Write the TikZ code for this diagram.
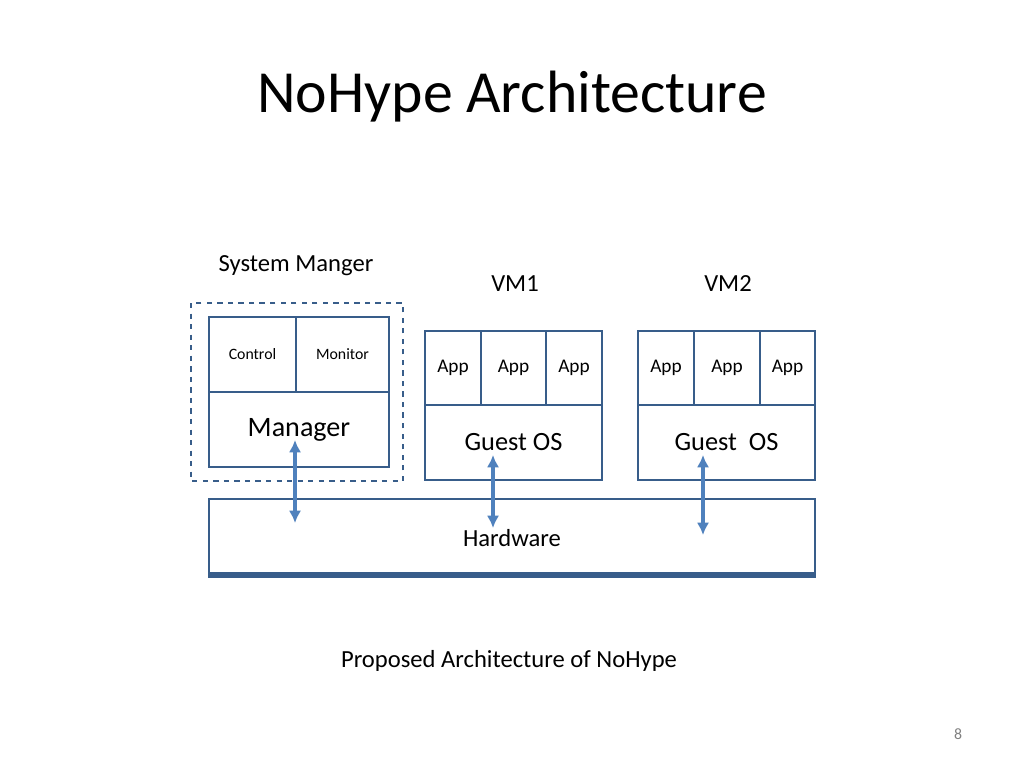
\documentclass[tikz,border=0pt]{standalone}
\usepackage{fontspec}
\setmainfont{Carlito}
\usetikzlibrary{arrows.meta}
\definecolor{boxblue}{RGB}{56,93,138}
\definecolor{arrowblue}{RGB}{79,129,189}
\begin{document}
\begin{tikzpicture}[x=0.02cm, y=-0.02cm]
	\tikzset{box/.style = {draw=boxblue, line width=1.4pt, fill=white, inner sep=0pt},
		link/.style = {arrowblue, line width=2pt, {Latex[length=7pt,width=7pt]}-{Latex[length=7pt,width=7pt]}}}
	\useasboundingbox (0,0) rectangle (1024,768);
	\node (title) at (512,97) {\fontsize{34}{40}\selectfont NoHype Architecture};
	\node (caption) at (509,661) {\fontsize{14}{17}\selectfont Proposed Architecture of NoHype};
	\node[text=gray] (page) at (958,734) {\fontsize{9}{11}\selectfont 8};
	\node (sm) at (296,266) {\fontsize{14}{17}\selectfont System Manger};
	\node (vm1) at (515,284) {\fontsize{14}{17}\selectfont VM1};
	\node (vm2) at (728,284) {\fontsize{14}{17}\selectfont VM2};
	\draw[boxblue, line width=1.4pt, dashed] (191,303) rectangle (403,481);
	% system manager
	\draw[box] (209,317) rectangle node (ctrl) {\fontsize{9}{11}\selectfont Control} (296,392);
	\draw[box] (296,317) rectangle node (mon) {\fontsize{9}{11}\selectfont Monitor} (389,392);
	\draw[box] (209,392) rectangle node (mgr) {\fontsize{16}{19}\selectfont Manager} (389,467);
	% VM1
	\draw[box] (425,331) rectangle node (a1) {\fontsize{11}{13}\selectfont App} (481,405);
	\draw[box] (481,331) rectangle node (a2) {\fontsize{11}{13}\selectfont App} (546,405);
	\draw[box] (546,331) rectangle node (a3) {\fontsize{11}{13}\selectfont App} (602,405);
	\draw[box] (425,405) rectangle node (os1) {\fontsize{15}{18}\selectfont Guest OS} (602,480);
	% VM2
	\draw[box] (638,331) rectangle node (b1) {\fontsize{11}{13}\selectfont App} (694,405);
	\draw[box] (694,331) rectangle node (b2) {\fontsize{11}{13}\selectfont App} (760,405);
	\draw[box] (760,331) rectangle node (b3) {\fontsize{11}{13}\selectfont App} (815,405);
	\draw[box] (638,405) rectangle node (os2) {\fontsize{15}{18}\selectfont Guest\ \ OS} (815,480);
	% hardware
	\draw[box] (209,499) rectangle node (hw) {\fontsize{14}{17}\selectfont Hardware} (815,577);
	\draw[boxblue, line width=3pt] (209,575) -- (815,575);
	\coordinate (m1) at (295,440); \coordinate (h1) at (295,523);
	\coordinate (m2) at (493,455); \coordinate (h2) at (493,528);
	\coordinate (m3) at (703,455); \coordinate (h3) at (703,535);
	\draw[link] (m1) -- (h1);
	\draw[link] (m2) -- (h2);
	\draw[link] (m3) -- (h3);
\end{tikzpicture}
\end{document}
